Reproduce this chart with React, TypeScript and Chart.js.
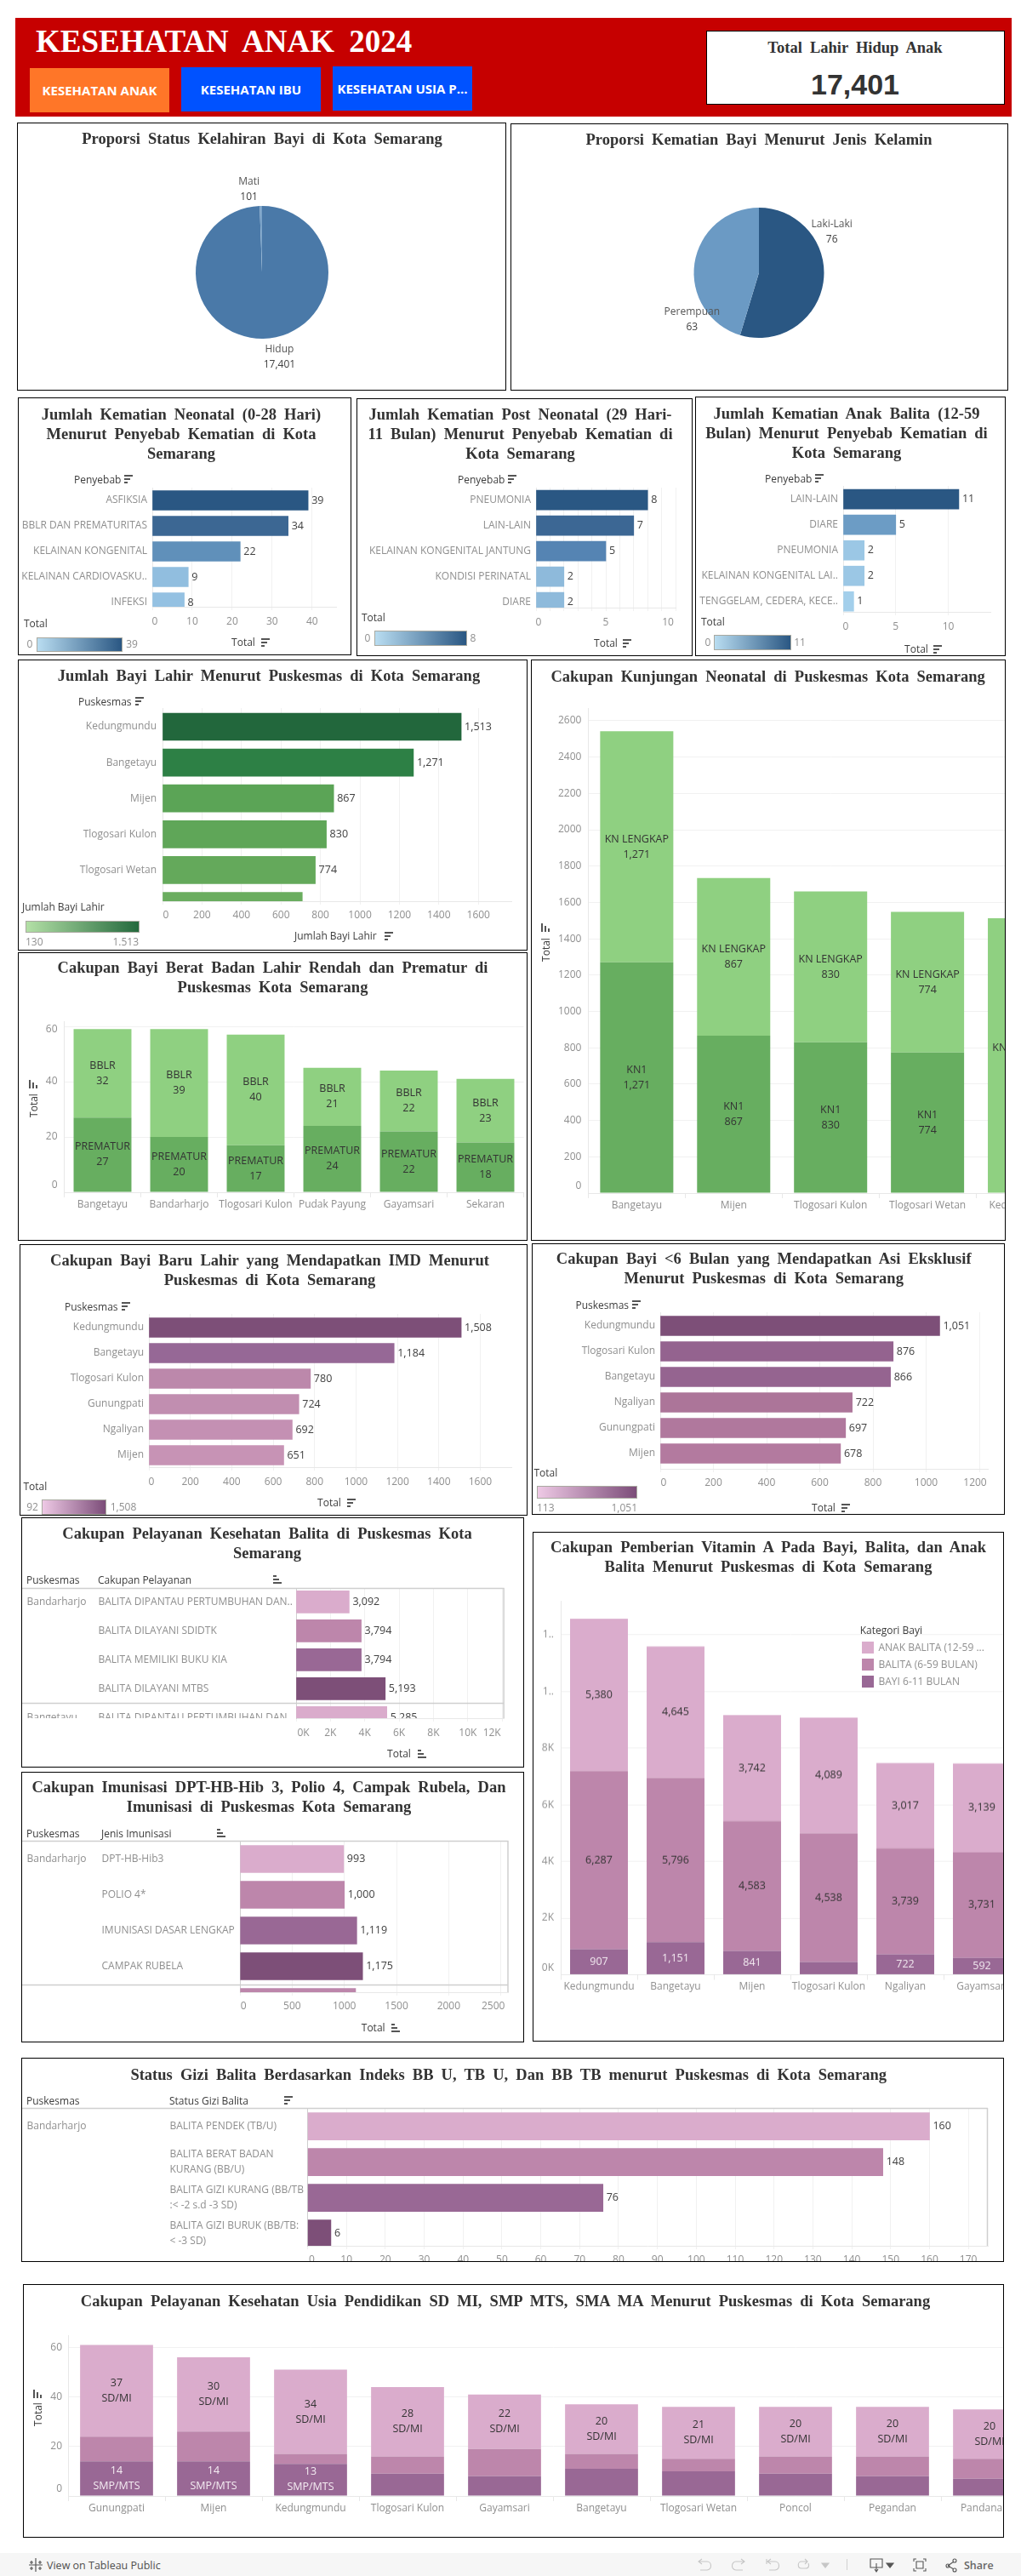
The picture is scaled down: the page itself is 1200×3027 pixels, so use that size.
import React, { useEffect, useRef } from "react";
import { Chart, registerables } from "chart.js";

Chart.register(...registerables);

const SANS = '"Open Sans", sans-serif';
const SERIF = '"Liberation Serif", serif';
const TICK = "#8f8f8f";
const INK = "#3c3c3c";
const GRID = "#f1f1f1";
const AXIS = "#e8e8e8";

// ---------- DATA ----------
const birthStatus = ["Hidup", "Mati"];
const birthStatusValues = [17401, 101];
const sexes = ["Laki-Laki", "Perempuan"];
const sexValues = [76, 63];

const neonatalCauses = ["ASFIKSIA", "BBLR DAN PREMATURITAS", "KELAINAN KONGENITAL", "KELAINAN CARDIOVASKU..", "INFEKSI"];
const neonatalTotals = [39, 34, 22, 9, 8];
const neonatalColors = ["#2a5783", "#3c6793", "#6090ba", "#91bedf", "#94c1e2"];

const postNeonatalCauses = ["PNEUMONIA", "LAIN-LAIN", "KELAINAN KONGENITAL JANTUNG", "KONDISI PERINATAL", "DIARE"];
const postNeonatalTotals = [8, 7, 5, 2, 2];
const postNeonatalColors = ["#2a5783", "#3c6794", "#5584b3", "#8ebadb", "#8ebadb"];

const toddlerCauses = ["LAIN-LAIN", "DIARE", "PNEUMONIA", "KELAINAN KONGENITAL LAI..", "TENGGELAM, CEDERA, KECE.."];
const toddlerTotals = [11, 5, 2, 2, 1];
const toddlerColors = ["#2a5783", "#6c9cc5", "#9bc7e5", "#9bc7e5", "#a3cfeb"];

const birthSites = ["Kedungmundu", "Bangetayu", "Mijen", "Tlogosari Kulon", "Tlogosari Wetan", ""];
const birthTotals = [1513, 1271, 867, 830, 774, 708];
const birthColors = ["#22673c", "#2d8045", "#5ba456", "#5fa658", "#64a95b", "#6aad5f"];

const lowWeightSites = ["Bangetayu", "Bandarharjo", "Tlogosari Kulon", "Pudak Payung", "Gayamsari", "Sekaran"];
const prematurValues = [27, 20, 17, 24, 22, 18];
const bblrValues = [32, 39, 40, 21, 22, 23];

const neonatalVisitSites = ["Bangetayu", "Mijen", "Tlogosari Kulon", "Tlogosari Wetan", "Kedungmundu"];
const kn1Values = [1271, 867, 830, 774, 0];
const knLengkapValues = [1271, 867, 830, 774, 1513];

const imdSites = ["Kedungmundu", "Bangetayu", "Tlogosari Kulon", "Gunungpati", "Ngaliyan", "Mijen"];
const imdTotals = [1508, 1184, 780, 724, 692, 651];
const imdColors = ["#7d4f78", "#966896", "#bc88ab", "#c18eb0", "#c490b3", "#c793b5"];

const asiSites = ["Kedungmundu", "Tlogosari Kulon", "Bangetayu", "Ngaliyan", "Gunungpati", "Mijen"];
const asiTotals = [1051, 876, 866, 722, 697, 678];
const asiColors = ["#7d4f78", "#94638f", "#956490", "#ac7599", "#b0789d", "#b37a9f"];

const balitaServices = ["BALITA DIPANTAU PERTUMBUHAN DAN..", "BALITA DILAYANI SDIDTK", "BALITA MEMILIKI BUKU KIA", "BALITA DILAYANI MTBS", "BALITA DIPANTAU PERTUMBUHAN DAN"];
const balitaTotals = [3092, 3794, 3794, 5193, 5285];
const fourPurples = ["#daaccc", "#bd86ab", "#996895", "#7d4f78"];

const immunisations = ["DPT-HB-Hib3", "POLIO 4*", "IMUNISASI DASAR LENGKAP", "CAMPAK RUBELA", ""];
const immunisationTotals = [993, 1000, 1119, 1175, 1108];

const vitaminSites = ["Kedungmundu", "Bangetayu", "Mijen", "Tlogosari Kulon", "Ngaliyan", "Gayamsari"];
const vitaminBayi = [907, 1151, 841, 454, 722, 592];
const vitaminBalita = [6287, 5796, 4583, 4538, 3739, 3731];
const vitaminAnak = [5380, 4645, 3742, 4089, 3017, 3139];

const nutritionStatus = [
  ["BALITA PENDEK (TB/U)"],
  ["BALITA BERAT BADAN", "KURANG (BB/U)"],
  ["BALITA GIZI KURANG (BB/TB", ":< -2 s.d -3 SD)"],
  ["BALITA GIZI BURUK (BB/TB:", "< -3 SD)"],
];
const nutritionTotals = [160, 148, 76, 6];

const schoolSites = ["Gunungpati", "Mijen", "Kedungmundu", "Tlogosari Kulon", "Gayamsari", "Bangetayu", "Tlogosari Wetan", "Poncol", "Pegandan", "Pandanaran"];
const smpValues = [14, 14, 13, 9, 8, 11, 10, 9, 8, 7];
const smaValues = [10, 12, 4, 7, 11, 6, 5, 7, 8, 8];
const sdValues = [37, 30, 34, 28, 22, 20, 21, 20, 20, 20];

// ---------- HELPERS ----------
const fmt = (v: number) => v.toLocaleString("en-US");
const tickFont = { family: SANS, size: 12 };

function stepTicks(scale: any, max: number, step: number) {
  const out: any[] = [];
  for (let v = 0; v <= max + 1e-6; v += step) out.push({ value: v });
  scale.ticks = out;
}

function nudgeLabels(chart: any, nudges: any[]) {
  for (const [scaleId, text, dx, dy] of nudges) {
    const scale = chart.scales[scaleId];
    const items = scale.getLabelItems();
    for (const it of items) {
      if (it.label === text && !it.__moved) {
        it.options.translation[0] += dx;
        it.options.translation[1] += dy;
        it.__moved = true;
      }
    }
  }
}

function hBarConfig(c: any) {
  const [px, py, pw, ph] = c.panel;
  const [l, t, r, b] = c.plot;
  const yMin = (t - c.firstRow) / c.rowStep;
  const yMax = (b - c.firstRow) / c.rowStep;
  const padLeft = c.catLeft ? c.catLeft - px : 0;
  const tickLen = 4;
  return {
    type: "bar",
    data: {
      labels: c.cats.map((_: any, i: number) => i),
      datasets: [{ data: c.values, backgroundColor: c.colors, barThickness: c.barH, borderWidth: 0 }],
    },
    options: {
      indexAxis: "y",
      responsive: false,
      animation: false,
      events: [],
      devicePixelRatio: 1,
      layout: { padding: { left: padLeft, top: t - py, right: px + pw - r, bottom: 0 } },
      plugins: { legend: { display: false }, tooltip: { enabled: false } },
      scales: {
        x: {
          type: "linear",
          position: "bottom",
          bounds: "data",
          offset: false,
          min: 0,
          max: c.xMax,
          grid: { color: GRID, tickLength: tickLen, offset: false },
          border: { color: AXIS },
          afterBuildTicks: (s: any) => stepTicks(s, c.xMax, c.xStep),
          ticks: {
            autoSkip: false,
            maxRotation: 0,
            color: TICK,
            font: tickFont,
            padding: Math.max(0, c.labelY - b - tickLen - 7),
            callback: c.xLabel || ((v: number) => String(v)),
          },
          afterFit: (s: any) => {
            s.height = py + ph - b;
            s.paddingLeft = s.paddingRight = 0;
          },
        },
        y: {
          type: "linear",
          reverse: true,
          bounds: "data",
          offset: false,
          min: yMin,
          max: yMax,
          grid: { display: false, drawTicks: false, offset: false },
          border: { color: c.table ? "#cfcfcf" : AXIS },
          afterBuildTicks: (s: any) => {
            s.ticks = c.cats.map((_: any, i: number) => ({ value: i })).filter((k: any) => k.value <= yMax);
          },
          ticks: {
            autoSkip: false,
            color: TICK,
            font: { ...tickFont, lineHeight: c.catLineHeight || 1.2 },
            crossAlign: c.catLeft ? "far" : "near",
            padding: c.catLeft ? 0 : l - c.catRight,
            callback: (v: number) => c.cats[v],
          },
          afterFit: (s: any) => {
            s.width = l - px - padLeft;
            s.paddingTop = s.paddingBottom = 0;
          },
        },
      },
    },
    plugins: [
      {
        id: "hbarExtras",
        beforeDraw(chart: any) {
          nudgeLabels(chart, c.nudges || []);
        },
        beforeDatasetsDraw(chart: any) {
          const { ctx, chartArea: a, scales } = chart;
          ctx.save();
          if (c.table) {
            ctx.strokeStyle = "#cfcfcf";
            ctx.lineWidth = 1.5;
            ctx.beginPath();
            ctx.moveTo(0, a.top + 0.5);
            ctx.lineTo(a.right, a.top + 0.5);
            ctx.moveTo(a.right - 0.5, a.top);
            ctx.lineTo(a.right - 0.5, a.bottom);
            for (const sep of c.table.separators || []) {
              const y = Math.round(scales.y.getPixelForValue(sep)) + 0.5;
              ctx.moveTo(0, y);
              ctx.lineTo(a.right, y);
            }
            ctx.stroke();
            ctx.fillStyle = TICK;
            ctx.font = `12px ${SANS}`;
            ctx.textBaseline = "middle";
            ctx.textAlign = "left";
            for (const [name, row] of c.table.groups || []) {
              ctx.fillText(name, c.table.groupX - px, scales.y.getPixelForValue(row));
            }
          }
          // hide the part of the row headers below the scrolled viewport
          ctx.fillStyle = "#fff";
          ctx.fillRect(1, a.bottom, a.left - 2, 8);
          ctx.restore();
        },
        afterDatasetsDraw(chart: any) {
          const { ctx, chartArea: a } = chart;
          const els = chart.getDatasetMeta(0).data;
          ctx.save();
          ctx.beginPath();
          ctx.rect(0, 0, chart.width, a.bottom);
          ctx.clip();
          ctx.fillStyle = "#404040";
          ctx.font = `12.5px ${SANS}`;
          ctx.textAlign = "left";
          ctx.textBaseline = "middle";
          els.forEach((el: any, i: number) => {
            ctx.fillText(fmt(c.values[i]), el.x + 4, el.y);
          });
          ctx.restore();
        },
      },
    ],
  };
}

function vStackConfig(c: any) {
  const [px, py, pw, ph] = c.panel;
  const { l, t, b, step, pxPerUnit } = c.geom;
  const r = l + step * c.cats.length;
  const canvasW = Math.max(pw, r - px);
  const yTop = (b - t) / pxPerUnit;
  return {
    width: canvasW,
    config: {
      type: "bar",
      data: {
        labels: c.cats,
        datasets: c.series.map((s: any) => ({
          label: s.name,
          data: s.data,
          backgroundColor: s.color,
          stack: "all",
          barPercentage: 1,
          categoryPercentage: c.barRatio,
          borderWidth: 0,
        })),
      },
      options: {
        responsive: false,
        animation: false,
        events: [],
        devicePixelRatio: 1,
        layout: { padding: { left: 0, top: t - py, right: canvasW - (r - px), bottom: 0 } },
        plugins: { legend: { display: false }, tooltip: { enabled: false } },
        scales: {
          x: {
            stacked: true,
            grid: { drawOnChartArea: false, color: AXIS, tickLength: 6 },
            border: { color: AXIS },
            ticks: {
              autoSkip: false,
              maxRotation: 0,
              minRotation: 0,
              color: TICK,
              font: tickFont,
              padding: Math.max(0, c.labelY - b - 6 - 7),
            },
            afterFit: (s: any) => {
              s.height = py + ph - b;
              s.paddingLeft = s.paddingRight = 0;
            },
          },
          y: {
            stacked: true,
            bounds: "data",
            min: 0,
            max: yTop,
            grid: { color: GRID, drawTicks: false },
            border: { color: AXIS },
            afterBuildTicks: (s: any) => stepTicks(s, yTop, c.yStep),
            ticks: {
              autoSkip: false,
              color: TICK,
              font: tickFont,
              padding: c.tickGap,
              callback: c.yLabel || ((v: number) => String(v)),
            },
            afterFit: (s: any) => {
              s.width = l - px;
              s.paddingTop = s.paddingBottom = 0;
            },
          },
        },
      },
      plugins: [
        {
          id: "stackLabels",
          beforeDraw(chart: any) {
            nudgeLabels(chart, c.nudges || []);
          },
          afterDatasetsDraw(chart: any) {
            const { ctx } = chart;
            ctx.save();
            ctx.font = `12.5px ${SANS}`;
            ctx.textAlign = "center";
            ctx.textBaseline = "middle";
            c.series.forEach((s: any, si: number) => {
              if (!s.lines) return;
              chart.getDatasetMeta(si).data.forEach((el: any, i: number) => {
                const h = Math.abs(el.base - el.y);
                if (h < s.minHeight) return;
                const lines = s.lines(s.data[i]);
                const mid = (el.y + el.base) / 2;
                ctx.fillStyle = s.textColor;
                lines.forEach((txt: string, k: number) => {
                  ctx.fillText(txt, el.x, mid + (k - (lines.length - 1) / 2) * 18);
                });
              });
            });
            ctx.restore();
          },
        },
      ],
    },
  };
}

function pieConfig(c: any) {
  const [px, py, pw, ph] = c.panel;
  const { cx, cy, r } = c.geom;
  return {
    type: "pie",
    data: {
      labels: c.labels,
      datasets: [{ data: c.values, backgroundColor: c.colors, borderWidth: 0 }],
    },
    options: {
      responsive: false,
      animation: false,
      events: [],
      devicePixelRatio: 1,
      radius: r,
      layout: { padding: { left: cx - px - r, right: px + pw - cx - r, top: cy - py - r, bottom: py + ph - cy - r } },
      plugins: { legend: { display: false }, tooltip: { enabled: false } },
    },
    plugins: [
      {
        id: "pieLabels",
        afterDatasetsDraw(chart: any) {
          const { ctx } = chart;
          ctx.save();
          ctx.font = `12px ${SANS}`;
          ctx.textAlign = "center";
          ctx.textBaseline = "middle";
          chart.getDatasetMeta(0).data.forEach((el: any, i: number) => {
            const mid = (el.startAngle + el.endAngle) / 2;
            const x = el.x + Math.cos(mid) * el.outerRadius + c.labelOffsets[i][0];
            const y = el.y + Math.sin(mid) * el.outerRadius + c.labelOffsets[i][1];
            ctx.fillStyle = "#555";
            ctx.fillText(c.labels[i], x, y - 9);
            ctx.fillStyle = "#404040";
            ctx.fillText(fmt(c.values[i]), x, y + 9);
          });
          ctx.restore();
        },
      },
    ],
  };
}

// ---------- DOM PIECES ----------
function ChartBox({ panel, config, canvasW }: any) {
  const ref = useRef<HTMLCanvasElement>(null);
  useEffect(() => {
    const chart = new Chart(ref.current as any, config);
    return () => chart.destroy();
  }, []);
  const [x, y, w, h] = panel;
  return (
    <>
      <div style={{ position: "absolute", left: x, top: y, width: w, height: h, overflow: "hidden" }}>
        <canvas ref={ref} width={canvasW || w} height={h} style={{ display: "block", width: canvasW || w, height: h }} />
      </div>
      <div style={{ position: "absolute", left: x, top: y, width: w, height: h, boxSizing: "border-box", border: "1px solid #000", pointerEvents: "none" }} />
    </>
  );
}

function T({ x, y, children, anchor = "left", size = 12, color = INK, weight = 400, family = SANS, extra }: any) {
  const tx = anchor === "center" ? "-50%" : anchor === "right" ? "-100%" : "0";
  return (
    <div style={{ position: "absolute", left: x, top: y, transform: `translate(${tx},-50%)`, whiteSpace: "pre", fontSize: size, color, fontWeight: weight, fontFamily: family, lineHeight: 1.2, ...extra }}>
      {children}
    </div>
  );
}

function Title({ x, y, children, size = 18.5 }: any) {
  return (
    <T x={x} y={y} anchor="center" size={size} weight={700} family={SERIF} color="#333" extra={{ wordSpacing: 4.5 }}>
      {children}
    </T>
  );
}

function SortIcon({ x, y, kind = "desc", rotate = 0 }: any) {
  const widths = kind === "desc" ? [10, 7, 4] : [4, 7, 10];
  return (
    <div style={{ position: "absolute", left: x - 5, top: y - 5, width: 10, height: 10, transform: `rotate(${rotate}deg)` }}>
      {widths.map((w, i) => (
        <div key={i} style={{ position: "absolute", left: 0, top: i * 4, width: w, height: 2, background: "#555" }} />
      ))}
    </div>
  );
}

function GradientLegend({ x, y, w, h, from, to }: any) {
  return (
    <div style={{ position: "absolute", left: x, top: y, width: w, height: h, boxSizing: "border-box", border: "1px solid #a9a9a0", background: `linear-gradient(to right, ${from}, ${to})` }} />
  );
}

function RotatedTotal({ x, y, iconY }: any) {
  return (
    <>
      <div style={{ position: "absolute", left: x, top: y, transform: "translate(-50%,-50%) rotate(-90deg)", fontFamily: SANS, fontSize: 12, color: INK, whiteSpace: "pre" }}>Total</div>
      <SortIcon x={x} y={iconY} rotate={-90} />
    </>
  );
}

const BLUE: [string, string] = ["#b9ddf1", "#2a5783"];
const GREEN: [string, string] = ["#b3e0a6", "#24693d"];
const PURPLE: [string, string] = ["#eec9e5", "#7c4d79"];

// ---------- CHART CONFIGS ----------
const pie1 = pieConfig({
  panel: [20, 144, 575, 315],
  geom: { cx: 308, cy: 320, r: 78 },
  labels: birthStatus,
  values: birthStatusValues,
  colors: ["#4a79a8", "#7ba3c8"],
  labelOffsets: [[19, 22], [-14, -19]],
});
const pie2 = pieConfig({
  panel: [600, 145, 585, 314],
  geom: { cx: 892, cy: 320.5, r: 76.5 },
  labels: sexes,
  values: sexValues,
  colors: ["#2a5783", "#6b9ac4"],
  labelOffsets: [[10, -59], [-3, 66]],
});

const cause1 = hBarConfig({
  panel: [21, 467, 392, 303], plot: [179, 573, 395, 713], firstRow: 588, rowStep: 30, barH: 23,
  cats: neonatalCauses, values: neonatalTotals, colors: neonatalColors, xMax: 46, xStep: 10, labelY: 730, catRight: 173,
  nudges: [["x", "0", 3, 0]],
});
const cause2 = hBarConfig({
  panel: [419, 468, 395, 303], plot: [630, 573, 794, 714], firstRow: 587.7, rowStep: 30, barH: 23,
  cats: postNeonatalCauses, values: postNeonatalTotals, colors: postNeonatalColors, xMax: 10, xStep: 1, labelY: 731, catRight: 624,
  xLabel: (v: number) => (v % 5 === 0 ? String(v) : ""),
  nudges: [["x", "0", 3, 0], ["x", "10", -9, 0]],
});
const cause3 = hBarConfig({
  panel: [817, 466, 365, 305], plot: [991, 571, 1164, 719], firstRow: 586.7, rowStep: 30, barH: 23,
  cats: toddlerCauses, values: toddlerTotals, colors: toddlerColors, xMax: 14, xStep: 5, labelY: 736, catRight: 985,
  nudges: [["x", "0", 3, 0]],
});
const births = hBarConfig({
  panel: [21, 775, 599, 342], plot: [191, 832, 601, 1059], firstRow: 854, rowStep: 42.1, barH: 32,
  cats: birthSites, values: birthTotals, colors: birthColors, xMax: 1767, xStep: 200, labelY: 1075, catRight: 184,
  nudges: [["x", "0", 4, 0]],
});
const lowWeight = vStackConfig({
  panel: [21, 1119, 599, 339],
  geom: { l: 75.5, t: 1200, b: 1401, step: 90, pxPerUnit: 3.25 },
  cats: lowWeightSites, barRatio: 0.755, labelY: 1415, yStep: 20, tickGap: 8,
  nudges: [["y", "0", 0, -8], ["y", "60", 0, 4]],
  series: [
    { name: "PREMATUR", data: prematurValues, color: "#67ae60", textColor: "#333", minHeight: 30, lines: (v: number) => ["PREMATUR", fmt(v)] },
    { name: "BBLR", data: bblrValues, color: "#8fd081", textColor: "#333", minHeight: 30, lines: (v: number) => ["BBLR", fmt(v)] },
  ],
});
const neonatalVisit = vStackConfig({
  panel: [624, 775, 558, 683],
  geom: { l: 691.4, t: 832, b: 1402, step: 114, pxPerUnit: 0.2135 },
  cats: neonatalVisitSites, barRatio: 0.755, labelY: 1416, yStep: 200, tickGap: 8,
  nudges: [["y", "0", 0, -8]],
  series: [
    { name: "KN1", data: kn1Values, color: "#67ae60", textColor: "#333", minHeight: 30, lines: (v: number) => ["KN1", fmt(v)] },
    { name: "KN LENGKAP", data: knLengkapValues, color: "#8fd081", textColor: "#333", minHeight: 30, lines: (v: number) => ["KN LENGKAP", fmt(v)] },
  ],
});
const imd = hBarConfig({
  panel: [23, 1462, 597, 319], plot: [175, 1544, 601, 1724], firstRow: 1560, rowStep: 30, barH: 23,
  cats: imdSites, values: imdTotals, colors: imdColors, xMax: 1750, xStep: 200, labelY: 1741, catRight: 169,
  nudges: [["x", "0", 3, 0]],
});
const asi = hBarConfig({
  panel: [625, 1461, 556, 319], plot: [776, 1542, 1161, 1726], firstRow: 1558, rowStep: 30, barH: 23,
  cats: asiSites, values: asiTotals, colors: asiColors, xMax: 1232, xStep: 200, labelY: 1742, catRight: 770,
  nudges: [["x", "0", 4, 0], ["x", "1200", -5, 0]],
});
const balita = hBarConfig({
  panel: [24.5, 1783, 591.5, 294], plot: [347.5, 1866, 592.6, 2019], firstRow: 1882.4, rowStep: 34, barH: 26,
  cats: balitaServices, values: balitaTotals, colors: [...fourPurples, fourPurples[0]], xMax: 12120, xStep: 2000, labelY: 2036, catLeft: 115,
  xLabel: (v: number) => `${v / 1000}K`,
  table: { separators: [3.5], groups: [["Bandarharjo", 0], ["Bangetayu", 4]], groupX: 31 },
  nudges: [["x", "0K", 8.5, 0], ["x", "12K", -12, 0]],
});
const immun = hBarConfig({
  panel: [24.5, 2082, 591.5, 318], plot: [281.6, 2163, 597.5, 2341], firstRow: 2184.5, rowStep: 42, barH: 32,
  cats: immunisations, values: immunisationTotals, colors: [...fourPurples, "#bd86ab"], xMax: 2572, xStep: 500, labelY: 2357.6, catLeft: 119,
  table: { separators: [3.5], groups: [["Bandarharjo", 0]], groupX: 31 },
  nudges: [["x", "0", 4, 0], ["x", "2500", -9, 0]],
});
const vitamin = vStackConfig({
  panel: [626, 1800, 553.5, 598.5],
  geom: { l: 659, t: 1881, b: 2320, step: 90, pxPerUnit: 0.03325 },
  cats: vitaminSites, barRatio: 0.755, labelY: 2334, yStep: 2000, tickGap: 8,
  yLabel: (v: number) => (v >= 10000 ? "1.." : `${v / 1000}K`),
  nudges: [["y", "0K", 0, -8]],
  series: [
    { name: "BAYI 6-11 BULAN", data: vitaminBayi, color: "#996895", textColor: "#f4ecf2", minHeight: 17, lines: (v: number) => [fmt(v)] },
    { name: "BALITA (6-59 BULAN)", data: vitaminBalita, color: "#bd86ab", textColor: "#333", minHeight: 17, lines: (v: number) => [fmt(v)] },
    { name: "ANAK BALITA (12-59 ...", data: vitaminAnak, color: "#daaccc", textColor: "#333", minHeight: 17, lines: (v: number) => [fmt(v)] },
  ],
});
const nutrition = hBarConfig({
  panel: [24.5, 2418, 1155.5, 240], plot: [361, 2477, 1161, 2639], firstRow: 2498.7, rowStep: 42, barH: 32,
  cats: nutritionStatus, values: nutritionTotals, colors: fourPurples, xMax: 175, xStep: 10, labelY: 2655, catLeft: 199, catLineHeight: 1.5,
  table: { groups: [["Bandarharjo", 0]], groupX: 31 },
  nudges: [["x", "0", 5, 0]],
});
const school = vStackConfig({
  panel: [27, 2684, 1152.5, 298],
  geom: { l: 80, t: 2744, b: 2933, step: 114, pxPerUnit: 2.91 },
  cats: schoolSites, barRatio: 0.752, labelY: 2947, yStep: 20, tickGap: 7,
  nudges: [["y", "0", 0, -8]],
  series: [
    { name: "SMP/MTS", data: smpValues, color: "#996895", textColor: "#f4ecf2", minHeight: 36, lines: (v: number) => [fmt(v), "SMP/MTS"] },
    { name: "SMA/MA", data: smaValues, color: "#bd86ab", textColor: "#333" },
    { name: "SD/MI", data: sdValues, color: "#daaccc", textColor: "#333", minHeight: 36, lines: (v: number) => [fmt(v), "SD/MI"] },
  ],
});

const Btn = ({ x, y, w, h, bg, children }: any) => (
  <div style={{ position: "absolute", left: x, top: y, width: w, height: h, background: bg, color: "#fff", fontFamily: SANS, fontWeight: 700, fontSize: 15, display: "flex", alignItems: "center", justifyContent: "center", whiteSpace: "nowrap", overflow: "hidden" }}>
    {children}
  </div>
);

const ToolIcon = ({ x, d, color = "#c6c6c6", fill = "none" }: any) => (
  <svg style={{ position: "absolute", left: x - 9, top: 3005 }} width={18} height={18} viewBox="0 0 18 18" fill={fill} stroke={color} strokeWidth={1.1}>
    <path d={d} />
  </svg>
);

export default function App() {
  return (
    <div style={{ position: "absolute", left: 0, top: 0, width: 1200, height: 3027, background: "#fff", overflow: "hidden" }}>
      {/* header */}
      <div style={{ position: "absolute", left: 18, top: 21, width: 1171, height: 116, background: "#c60000" }} />
      <T x={42} y={48.5} size={37} weight={700} family={SERIF} color="#fff" extra={{ wordSpacing: 8 }}>KESEHATAN ANAK 2024</T>
      <Btn x={35} y={80} w={164} h={52} bg="#ff7628">KESEHATAN ANAK</Btn>
      <Btn x={213} y={79} w={164} h={52} bg="#0052ff">KESEHATAN IBU</Btn>
      <Btn x={391} y={78} w={164} h={52} bg="#0052ff">KESEHATAN USIA P...</Btn>
      <div style={{ position: "absolute", left: 830, top: 36, width: 351, height: 87, boxSizing: "border-box", background: "#fff", border: "1px solid #000" }} />
      <T x={1005} y={56} anchor="center" size={18.5} weight={700} family={SERIF} color="#333" extra={{ wordSpacing: 4.5 }}>Total Lahir Hidup Anak</T>
      <T x={1005} y={99} anchor="center" size={34} weight={700} family='"Liberation Sans", sans-serif' color="#333">17,401</T>

      {/* pies */}
      <ChartBox panel={[20, 144, 575, 315]} config={pie1} />
      <Title x={308} y={163}>Proporsi Status Kelahiran Bayi di Kota Semarang</Title>
      <ChartBox panel={[600, 145, 585, 314]} config={pie2} />
      <Title x={892} y={164}>Proporsi Kematian Bayi Menurut Jenis Kelamin</Title>

      {/* causes */}
      <ChartBox panel={[21, 467, 392, 303]} config={cause1} />
      <Title x={213} y={487}>Jumlah Kematian Neonatal (0-28 Hari)</Title>
      <Title x={213} y={510}>Menurut Penyebab Kematian di Kota</Title>
      <Title x={213} y={533}>Semarang</Title>
      <T x={87} y={564}>Penyebab</T><SortIcon x={151} y={563} />
      <T x={28} y={733}>Total</T>
      <GradientLegend x={43} y={749} w={101} h={17} from={BLUE[0]} to={BLUE[1]} />
      <T x={35} y={757} anchor="center" color={TICK}>0</T><T x={155} y={757} anchor="center" color={TICK}>39</T>
      <T x={286} y={755} anchor="center">Total</T><SortIcon x={312} y={755} />

      <ChartBox panel={[419, 468, 395, 303]} config={cause2} />
      <Title x={611.5} y={487}>Jumlah Kematian Post Neonatal (29 Hari-</Title>
      <Title x={611.5} y={510}>11 Bulan) Menurut Penyebab Kematian di</Title>
      <Title x={611.5} y={533}>Kota Semarang</Title>
      <T x={538} y={564}>Penyebab</T><SortIcon x={602} y={563} />
      <T x={425} y={726}>Total</T>
      <GradientLegend x={440} y={741} w={109} h={18} from={BLUE[0]} to={BLUE[1]} />
      <T x={432} y={750} anchor="center" color={TICK}>0</T><T x={556} y={750} anchor="center" color={TICK}>8</T>
      <T x={712} y={756} anchor="center">Total</T><SortIcon x={737} y={756} />

      <ChartBox panel={[817, 466, 365, 305]} config={cause3} />
      <Title x={995} y={486}>Jumlah Kematian Anak Balita (12-59</Title>
      <Title x={995} y={509}>Bulan) Menurut Penyebab Kematian di</Title>
      <Title x={995} y={532}>Kota Semarang</Title>
      <T x={899} y={563}>Penyebab</T><SortIcon x={963} y={562} />
      <T x={824} y={731}>Total</T>
      <GradientLegend x={839} y={746} w={91} h={18} from={BLUE[0]} to={BLUE[1]} />
      <T x={832} y={755} anchor="center" color={TICK}>0</T><T x={940} y={755} anchor="center" color={TICK}>11</T>
      <T x={1077} y={763} anchor="center">Total</T><SortIcon x={1102} y={763} />

      {/* births */}
      <ChartBox panel={[21, 775, 599, 342]} config={births} />
      <Title x={316} y={794}>Jumlah Bayi Lahir Menurut Puskesmas di Kota Semarang</Title>
      <T x={92} y={824.5}>Puskesmas</T><SortIcon x={164} y={824} />
      <T x={26} y={1066}>Jumlah Bayi Lahir</T>
      <GradientLegend x={30} y={1082} w={134} h={14} from={GREEN[0]} to={GREEN[1]} />
      <T x={30} y={1107} color={TICK}>130</T><T x={163} y={1107} anchor="right" color={TICK}>1.513</T>
      <T x={346} y={1100}>Jumlah Bayi Lahir</T><SortIcon x={457} y={1100} />

      {/* low weight */}
      <ChartBox panel={[21, 1119, 599, 339]} config={lowWeight.config} canvasW={lowWeight.width} />
      <Title x={320.5} y={1137}>Cakupan Bayi Berat Badan Lahir Rendah dan Prematur di</Title>
      <Title x={320.5} y={1160}>Puskesmas Kota Semarang</Title>
      <RotatedTotal x={38.6} y={1299} iconY={1274} />

      {/* neonatal visits */}
      <ChartBox panel={[624, 775, 558, 683]} config={neonatalVisit.config} canvasW={neonatalVisit.width} />
      <Title x={902.6} y={794.5}>Cakupan Kunjungan Neonatal di Puskesmas Kota Semarang</Title>
      <RotatedTotal x={641} y={1116} iconY={1090} />

      {/* IMD / ASI */}
      <ChartBox panel={[23, 1462, 597, 319]} config={imd} />
      <Title x={317} y={1481}>Cakupan Bayi Baru Lahir yang Mendapatkan IMD Menurut</Title>
      <Title x={317} y={1504}>Puskesmas di Kota Semarang</Title>
      <T x={76} y={1536}>Puskesmas</T><SortIcon x={148} y={1535} />
      <T x={27.5} y={1747}>Total</T>
      <GradientLegend x={49} y={1762} w={76} h={18} from={PURPLE[0]} to={PURPLE[1]} />
      <T x={38} y={1771} anchor="center" color={TICK}>92</T><T x={145} y={1771} anchor="center" color={TICK}>1,508</T>
      <T x={387} y={1766} anchor="center">Total</T><SortIcon x={413} y={1766} />

      <ChartBox panel={[625, 1461, 556, 319]} config={asi} />
      <Title x={897.7} y={1479}>Cakupan Bayi &lt;6 Bulan yang Mendapatkan Asi Eksklusif</Title>
      <Title x={897.7} y={1502}>Menurut Puskesmas di Kota Semarang</Title>
      <T x={676.5} y={1534}>Puskesmas</T><SortIcon x={748} y={1533} />
      <T x={627.5} y={1731}>Total</T>
      <GradientLegend x={631} y={1746} w={118} h={15} from={PURPLE[0]} to={PURPLE[1]} />
      <T x={631} y={1772} color={TICK}>113</T><T x={749} y={1772} anchor="right" color={TICK}>1,051</T>
      <T x={968} y={1772} anchor="center">Total</T><SortIcon x={994} y={1772} />

      {/* balita services */}
      <ChartBox panel={[24.5, 1783, 591.5, 294]} config={balita} />
      <Title x={314} y={1801.6}>Cakupan Pelayanan Kesehatan Balita di Puskesmas Kota</Title>
      <Title x={314} y={1825}>Semarang</Title>
      <T x={31} y={1857}>Puskesmas</T><T x={115} y={1857}>Cakupan Pelayanan</T><SortIcon x={326} y={1856} kind="asc" />
      <T x={469} y={2061} anchor="center">Total</T><SortIcon x={496} y={2061} kind="asc" />

      {/* immunisation */}
      <ChartBox panel={[24.5, 2082, 591.5, 318]} config={immun} />
      <Title x={316} y={2100}>Cakupan Imunisasi DPT-HB-Hib 3, Polio 4, Campak Rubela, Dan</Title>
      <Title x={316} y={2123}>Imunisasi di Puskesmas Kota Semarang</Title>
      <T x={31} y={2154.7}>Puskesmas</T><T x={119} y={2154.7}>Jenis Imunisasi</T><SortIcon x={260} y={2154} kind="asc" />
      <T x={438.7} y={2383} anchor="center">Total</T><SortIcon x={465} y={2383} kind="asc" />

      {/* vitamin A */}
      <ChartBox panel={[626, 1800, 553.5, 598.5]} config={vitamin.config} canvasW={vitamin.width} />
      <Title x={903} y={1818}>Cakupan Pemberian Vitamin A Pada Bayi, Balita, dan Anak</Title>
      <Title x={903} y={1841}>Balita Menurut Puskesmas di Kota Semarang</Title>
      <T x={1010.7} y={1915.5}>Kategori Bayi</T>
      {[["ANAK BALITA (12-59 ...", "#daaccc", 1929], ["BALITA (6-59 BULAN)", "#bd86ab", 1949], ["BAYI 6-11 BULAN", "#996895", 1969]].map(([txt, col, y]: any) => (
        <React.Fragment key={txt}>
          <div style={{ position: "absolute", left: 1013, top: y, width: 14, height: 14, background: col }} />
          <T x={1032.5} y={y + 7} color={TICK} size={12}>{txt}</T>
        </React.Fragment>
      ))}

      {/* nutrition */}
      <ChartBox panel={[24.5, 2418, 1155.5, 240]} config={nutrition} />
      <Title x={597.7} y={2438}>Status Gizi Balita Berdasarkan Indeks BB U, TB U, Dan BB TB menurut Puskesmas di Kota Semarang</Title>
      <T x={31} y={2469}>Puskesmas</T><T x={199} y={2469}>Status Gizi Balita</T><SortIcon x={339} y={2468} />

      {/* school */}
      <ChartBox panel={[27, 2684, 1152.5, 298]} config={school.config} canvasW={school.width} />
      <Title x={594} y={2704}>Cakupan Pelayanan Kesehatan Usia Pendidikan SD MI, SMP MTS, SMA MA Menurut Puskesmas di Kota Semarang</Title>
      <RotatedTotal x={43.6} y={2837} iconY={2813} />

      {/* toolbar */}
      <div style={{ position: "absolute", left: 0, top: 3000, width: 1200, height: 27, background: "#f6f6f6" }} />
      <svg style={{ position: "absolute", left: 33, top: 3005 }} width={18} height={18} viewBox="0 0 18 18" stroke="#555" strokeWidth={1.2}>
        <path d="M9 1v16M1 9h16M4 4v4M2 6h4M14 4v4M12 6h4M4 11v4M2 13h4M14 11v4M12 13h4" />
      </svg>
      <T x={55} y={3014} size={12.5} color="#4f4f4f">View on Tableau Public</T>
      <ToolIcon x={828} d="M6 2L2 5l4 3M2 5h10c6 0 6 10 0 10H4" />
      <ToolIcon x={868} d="M12 2l4 3-4 3M16 5H6c-6 0-6 10 0 10h8" />
      <ToolIcon x={908} d="M2 2v6M7 2L3 5l4 3M3 5h9c6 0 6 10 0 10H5" />
      <ToolIcon x={944} d="M11 2l3 3-3 3M14 5H7c-5 0-5 8 0 8h5c4 0 4-4 3-6" />
      <ToolIcon x={970} d="M5 7h8l-4 5z" fill="#c6c6c6" />
      <div style={{ position: "absolute", left: 995, top: 3007, width: 1, height: 13, background: "#d0d0d0" }} />
      <ToolIcon x={1030} d="M2 2h14v10H2zM9 7v9M7 14l2 3 2-3" color="#555" />
      <ToolIcon x={1046} d="M5 7h8l-4 5z" color="#555" fill="#555" />
      <ToolIcon x={1081} d="M2 5V2h3M13 2h3v3M16 13v3h-3M5 16H2v-3M5 5h8v8H5z" color="#555" />
      <ToolIcon x={1118} d="M5 10l7-5M5 10l7 4M15 4a2 2 0 1 1-4 0 2 2 0 0 1 4 0M15 15a2 2 0 1 1-4 0 2 2 0 0 1 4 0M7 10a2 2 0 1 1-4 0 2 2 0 0 1 4 0" color="#555" />
      <T x={1133} y={3014} size={12.5} weight={600} color="#666">Share</T>
    </div>
  );
}
